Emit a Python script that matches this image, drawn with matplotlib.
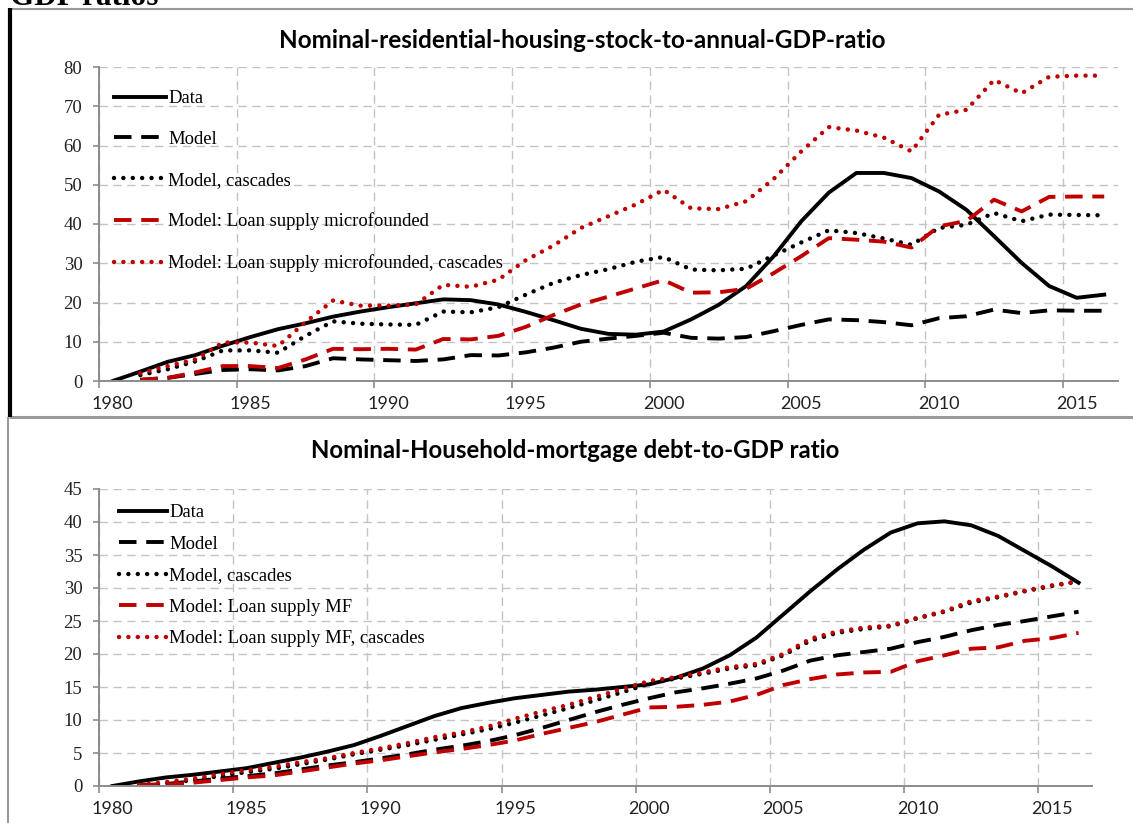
import numpy as np
import matplotlib
matplotlib.use("Agg")
import matplotlib.pyplot as plt
from matplotlib.lines import Line2D

# years (categories); Data starts 1980, model series start 1981
years = np.arange(1980, 2017)
model_years = years[1:]

# top panel: nominal residential housing stock to annual GDP
stock_data = [0, 2.4, 4.9, 6.6, 9.0, 11.2, 13.2, 14.7, 16.4, 17.7, 18.8, 19.8, 20.8, 20.6, 19.5,
              17.6, 15.5, 13.3, 12.0, 11.8, 12.6, 15.7, 19.4, 24.2, 31.8, 40.7, 48.0, 53.0, 53.0,
              51.7, 48.3, 43.6, 36.9, 30.1, 24.2, 21.2, 22.0]
stock_model = [0.3, 0.8, 1.8, 2.8, 3.0, 2.7, 3.8, 5.8, 5.5, 5.3, 5.1, 5.5, 6.6, 6.5, 7.3, 8.5,
               10.0, 10.8, 11.5, 12.3, 11.0, 10.8, 11.2, 12.7, 14.3, 15.7, 15.5, 15.0, 14.2, 16.0,
               16.5, 18.2, 17.3, 18.0, 17.9, 17.9]
stock_casc = [1.5, 3.0, 5.0, 7.8, 7.8, 7.2, 11.5, 15.2, 14.6, 14.4, 14.3, 17.7, 17.5, 18.8, 22.0,
              25.0, 27.0, 28.5, 30.4, 31.6, 28.4, 28.2, 28.6, 32.0, 35.3, 38.4, 37.7, 36.3, 34.7,
              39.0, 39.8, 42.8, 40.7, 42.4, 42.3, 42.2]
stock_mf = [0.3, 0.8, 2.2, 3.8, 3.8, 3.3, 5.5, 8.2, 8.1, 8.2, 8.0, 10.7, 10.6, 11.5, 13.8, 16.8,
            19.5, 21.5, 23.6, 25.7, 22.5, 22.6, 23.5, 27.5, 31.8, 36.4, 36.0, 35.5, 34.0, 39.4,
            40.8, 46.2, 43.2, 46.9, 47.0, 47.0]
stock_mf_casc = [2.0, 3.8, 5.5, 9.8, 9.8, 8.9, 15.0, 20.5, 19.2, 19.2, 19.5, 24.5, 24.0, 25.8,
                 30.8, 34.5, 39.0, 42.0, 45.0, 48.7, 44.0, 43.8, 45.8, 51.5, 58.5, 64.7, 63.8,
                 62.0, 58.5, 67.8, 69.1, 76.7, 73.3, 77.5, 77.8, 77.8]

# bottom panel: household mortgage debt to GDP
debt_data = [0, 0.7, 1.3, 1.7, 2.2, 2.7, 3.5, 4.3, 5.2, 6.2, 7.6, 9.1, 10.6, 11.8, 12.6, 13.3,
             13.8, 14.3, 14.6, 15.0, 15.4, 16.4, 17.8, 19.8, 22.5, 26.0, 29.5, 32.8, 35.8, 38.4,
             39.8, 40.1, 39.5, 37.9, 35.6, 33.3, 30.8]
debt_model = [0.1, 0.3, 0.7, 1.1, 1.5, 1.9, 2.5, 3.1, 3.6, 4.2, 4.8, 5.5, 6.1, 6.8, 7.7, 8.8,
              10.0, 11.2, 12.3, 13.3, 14.2, 14.8, 15.5, 16.3, 17.5, 19.0, 19.8, 20.3, 20.8, 21.8,
              22.6, 23.6, 24.4, 25.0, 25.7, 26.4]
debt_casc = [0.1, 0.4, 0.9, 1.5, 2.1, 2.6, 3.3, 4.0, 4.8, 5.5, 6.2, 7.0, 7.8, 8.6, 9.6, 10.7,
             11.8, 13.0, 14.2, 15.5, 16.3, 17.0, 17.8, 18.3, 19.8, 22.0, 23.2, 23.8, 24.2, 25.4,
             26.4, 27.8, 28.6, 29.5, 30.3, 31.0]
debt_mf = [0.1, 0.2, 0.5, 0.9, 1.3, 1.6, 2.2, 2.8, 3.4, 3.9, 4.5, 5.1, 5.6, 6.2, 6.9, 7.9, 8.8,
           9.7, 10.8, 11.9, 12.0, 12.3, 12.8, 13.8, 15.3, 16.2, 16.9, 17.2, 17.3, 18.9, 19.8, 20.8,
           21.0, 22.0, 22.4, 23.2]
debt_mf_casc = [0.2, 0.6, 1.1, 1.8, 2.4, 2.9, 3.6, 4.2, 5.0, 5.7, 6.5, 7.4, 8.1, 9.0, 10.2, 11.3,
                12.3, 13.5, 14.7, 15.9, 16.5, 17.2, 18.0, 18.5, 20.0, 22.3, 23.4, 24.0, 24.3, 25.5,
                26.5, 28.0, 28.7, 29.6, 30.4, 31.0]

top_labels = ["Data", "Model", "Model, cascades", "Model: Loan supply microfounded",
              "Model: Loan supply microfounded, cascades"]
bot_labels = ["Data", "Model", "Model, cascades", "Model: Loan supply MF",
              "Model: Loan supply MF, cascades"]

RED = "#c00000"
GREY = "#8c8c8c"
GRID = "#c3c3c3"
W, H = 1133, 823

fig = plt.figure(figsize=(W / 100, H / 100), dpi=100)

ax1 = fig.add_axes([99 / W, 1 - 381 / H, (1118 - 99) / W, (381 - 67) / H])
ax2 = fig.add_axes([99 / W, 1 - 786 / H, (1092 - 99) / W, (786 - 489) / H])


def draw(ax, data, model, casc, mf, mf_casc, labels, lw):
    dash = (0, (4.5, 2.5))
    dot = (0, (0.01, 2.1))
    ax.plot(years, data, color="black", lw=lw, solid_joinstyle="round", label=labels[0])
    ax.plot(model_years, model, color="black", lw=lw, ls=dash, label=labels[1])
    ax.plot(model_years, casc, color="black", lw=3.2, ls=dot,
            dash_capstyle="round", label=labels[2])
    ax.plot(model_years, mf, color=RED, lw=lw, ls=dash, label=labels[3])
    ax.plot(model_years, mf_casc, color=RED, lw=3.2, ls=dot,
            dash_capstyle="round", label=labels[4])


def style(ax, ymax, ystep):
    ax.set_xlim(1979.5, 2016.5)
    ax.set_ylim(0, ymax)
    ax.set_yticks(np.arange(0, ymax + 1, ystep))
    ax.set_xticks(np.arange(1979.5, 2016, 5))
    ax.set_xticklabels([])
    ax.set_xticks(np.arange(1980, 2016, 5), minor=True)
    ax.set_xticklabels([str(y) for y in range(1980, 2016, 5)], minor=True,
                       fontfamily="Lato", fontsize=13, color="#222222")
    ax.tick_params(axis="x", which="minor", length=0, pad=11)
    ax.tick_params(axis="x", which="major", length=5, width=1.2, color=GREY)
    ax.tick_params(axis="y", length=4, width=1.2, color=GREY, pad=8)
    for t in ax.get_yticklabels():
        t.set_fontfamily("Liberation Serif")
        t.set_fontsize(13.5)
        t.set_color("#222222")
    ax.grid(True, which="major", color=GRID, lw=1, ls=(0, (6, 4)))
    ax.set_axisbelow(True)
    for s in ["top", "right"]:
        ax.spines[s].set_visible(False)
    for s in ["left", "bottom"]:
        ax.spines[s].set_color(GREY)
        ax.spines[s].set_linewidth(1.4)


draw(ax1, stock_data, stock_model, stock_casc, stock_mf, stock_mf_casc, top_labels, 2.8)
draw(ax2, debt_data, debt_model, debt_casc, debt_mf, debt_mf_casc, bot_labels, 2.8)
style(ax1, 80, 10)
style(ax2, 45, 5)

leg_font = {"family": "Liberation Serif", "size": 13.4}
ax1.legend(loc="upper left", bbox_to_anchor=((114 - 99) / 1019, (381 - 90) / 314),
           frameon=False, prop=leg_font, handlelength=2.8, handletextpad=0.1,
           labelspacing=1.28, borderpad=0, borderaxespad=0)
ax2.legend(loc="upper left", bbox_to_anchor=((119 - 99) / 993, (786 - 504) / 297),
           frameon=False, prop=leg_font, handlelength=2.6, handletextpad=0.1,
           labelspacing=0.78, borderpad=0, borderaxespad=0)

# titles
fig.text(582 / W, 1 - 41 / H, "Nominal-residential-housing-stock-to-annual-GDP-ratio",
         ha="center", va="center", fontfamily="Lato", fontweight="bold", fontsize=17.5)
fig.text(575 / W, 1 - 450 / H, "Nominal-Household-mortgage debt-to-GDP ratio",
         ha="center", va="center", fontfamily="Lato", fontweight="bold", fontsize=17.3)
fig.text(10 / W, 1 - 5 / H, "GDP ratios", ha="left", va="baseline",
         fontfamily="Liberation Serif", fontweight="bold", fontsize=22.5)

# panel frames
def fline(x0, y0, x1, y1, color, lw):
    fig.add_artist(Line2D([x0 / W, x1 / W], [1 - y0 / H, 1 - y1 / H], color=color, lw=lw,
                          transform=fig.transFigure, solid_capstyle="butt"))


fline(9, 8.5, W + 5, 8.5, "#9a9a9a", 1.5)
fline(9, 417, W + 5, 417, "#9a9a9a", 2.2)
fline(8, 417, 8, H + 5, "#9a9a9a", 1.5)
fline(10.5, 8, 10.5, 417, "black", 3)

fig.savefig("out.png", dpi=100)
